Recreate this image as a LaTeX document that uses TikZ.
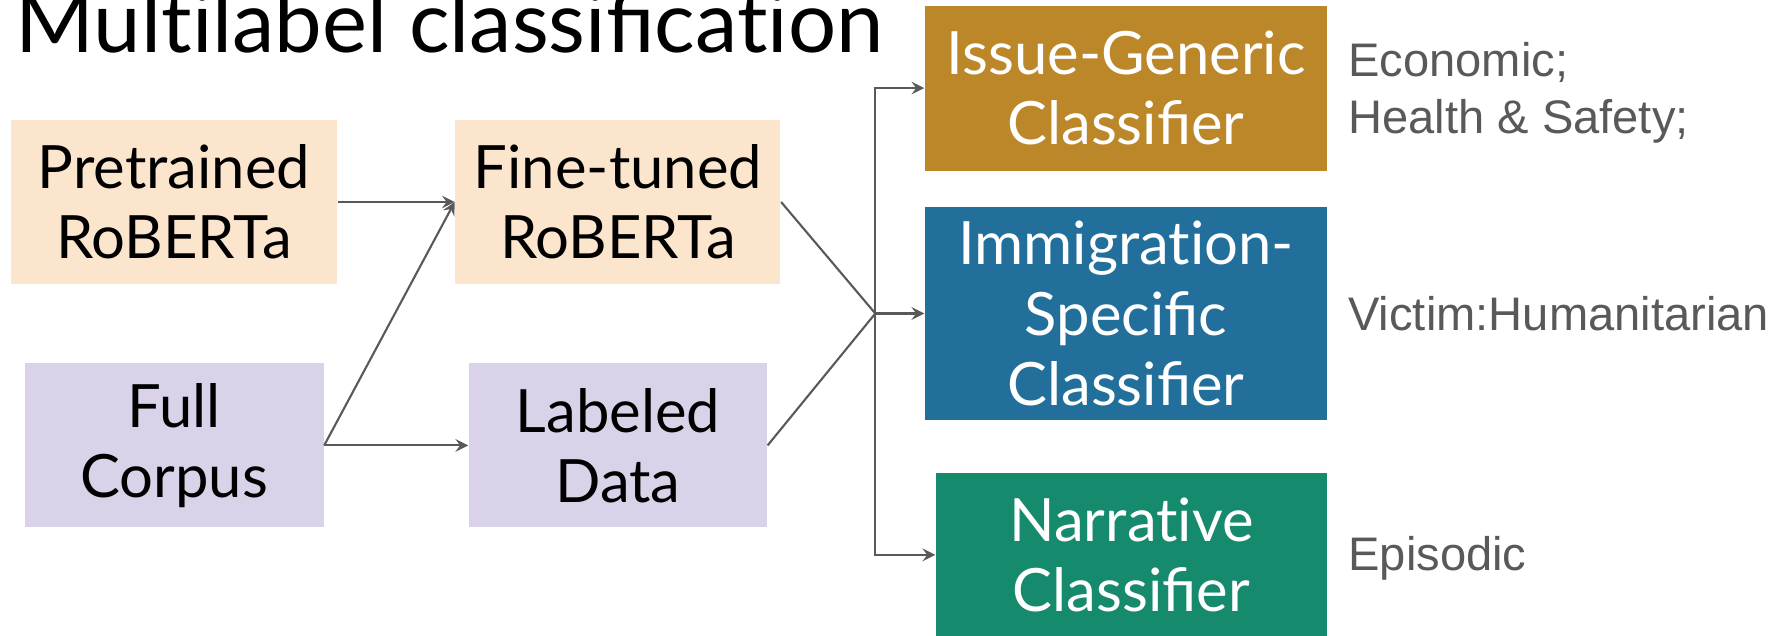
\documentclass[tikz,border=0pt]{standalone}
\usepackage{fontspec}
\setmainfont{Lato}
\newfontfamily\labelfont{Liberation Sans}
\usepackage{xcolor}
\usepackage{tikz}
\usetikzlibrary{positioning}

\definecolor{peach}{HTML}{FCE5CD}
\definecolor{lilac}{HTML}{D9D2E9}
\definecolor{gold}{HTML}{BC8729}
\definecolor{steel}{HTML}{216F9A}
\definecolor{jade}{HTML}{168A6C}
\definecolor{linegray}{HTML}{595959}
% keeps t and i apart (no ti ligature)
\newcommand{\ti}{t\kern0pt i}

\begin{document}
\begin{tikzpicture}[
	box/.style={inner sep=0pt, align=center, font=\fontsize{17}{20}\selectfont},
	arr/.style={-stealth, draw=linegray, line width=0.6pt},
	tag/.style={align=left, inner sep=0pt, text=linegray, font=\labelfont\fontsize{13.4}{16.2}\selectfont}]
		\useasboundingbox (0,0) rectangle (17.75,-6.36);
		\node[anchor=base west, inner sep=0pt, font=\fontsize{24.2}{29}\selectfont] (title) at (0.15,-0.53) {Mul\ti label classifica\ti on};
		
		\node[box, fill=peach, minimum width=3.26cm, minimum height=1.64cm] (pre) at (1.74,-2.02) {Pretrained\\RoBERTa};
		\node[box, fill=peach, minimum width=3.25cm, minimum height=1.64cm, right=1.17cm of pre] (fine) {Fine-tuned\\RoBERTa};
		\node[box, fill=lilac, minimum width=2.99cm, minimum height=1.64cm, below=0.78cm of pre] (full) {Full\\Corpus};
		\node[box, fill=lilac, minimum width=2.98cm, minimum height=1.64cm, below=0.78cm of fine] (lab) {Labeled\\Data};
		
		\node[box, fill=steel, text=white, minimum width=4.02cm, minimum height=2.13cm] (imm) at (11.26,-3.135) {Immigra\ti on-\\Specific\\Classifier};
		\node[box, fill=gold, text=white, minimum width=4.02cm, minimum height=1.65cm, above=0.35cm of imm] (issue) {Issue-Generic\\Classifier};
		\node[box, fill=jade, text=white, minimum width=3.91cm, minimum height=1.63cm, below=0.52cm of imm.south east, anchor=north east] (narr) {Narra\ti ve\\Classifier};
		
		\node[tag, right=0.2cm of issue, yshift=-0.05cm] (econ) {Economic;\\Health \& Safety;};
		\node[tag, right=0.2cm of imm] (victim) {Victim:Humanitarian};
		\node[tag, right=0.2cm of narr, yshift=-0.03cm] (epi) {Episodic};
		
		\coordinate[left=0.49cm of imm.west] (hub);
		
		\draw[arr] (pre) -- (fine);
		\draw[arr] (full.east) -- (fine.west);
		\draw[arr] (full) -- (lab);
		\draw[draw=linegray, line width=0.6pt] (fine.east) -- (hub);
		\draw[draw=linegray, line width=0.6pt] (lab.east) -- (hub);
		\draw[arr] (hub) -- (imm);
		\draw[arr] (hub) |- (issue);
		\draw[arr] (hub) |- (narr);
	\end{tikzpicture}
\end{document}
